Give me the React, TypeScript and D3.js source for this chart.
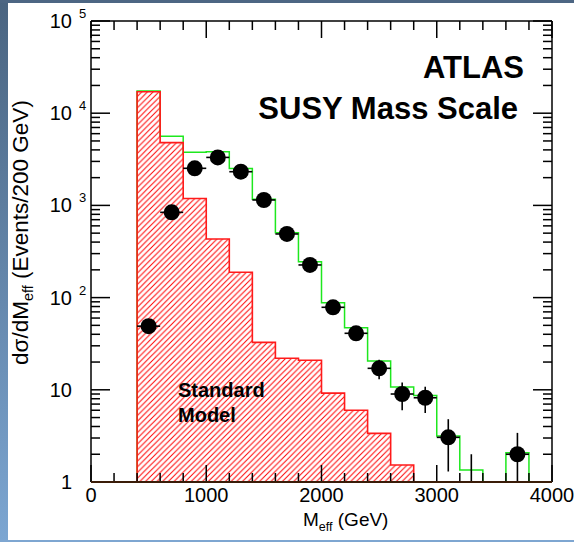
import React from 'react';
import * as d3 from 'd3';

const W = 574;
const H = 542;
const BIN = 200;

// Standard Model background (red hatched), lower bin edges (GeV) and values
const smEdges = [400, 600, 800, 1000, 1200, 1400, 1600, 1800, 2000, 2200, 2400, 2600];
const smValues = [17100, 4790, 1190, 432, 188, 32.7, 22, 20.9, 9.2, 6.0, 3.37, 1.53];

// SUSY + SM total (green line)
const totEdges = [400, 600, 800, 1000, 1200, 1400, 1600, 1800, 2000, 2200, 2400, 2600, 2800, 3000, 3200, 3400, 3600];
const totValues = [17400, 5620, 3770, 3825, 2515, 1165, 506, 245, 88, 47, 20.5, 10.7, 8.7, 3.15, 1.35, 0, 2.08];

// pseudo-data points
const dataX = [500, 700, 900, 1100, 1300, 1500, 1700, 1900, 2100, 2300, 2500, 2700, 2900, 3100, 3700];
const dataY = [49, 841, 2525, 3315, 2320, 1145, 490, 226, 78.5, 41, 17.1, 9.0, 8.2, 3.05, 2.0];
const dataErr = [7, 29, 50, 58, 48, 34, 22, 15, 8.9, 6.4, 4.1, 3.0, 2.6, 1.75, 1.41];
// empty bins drawn with upper error only
const emptyX = [3300];
const emptyErrUp = [2.0];

const xMajor = [0, 1000, 2000, 3000, 4000];
const xTickLabels = ['0', '1000', '2000', '3000', '4000'];
const yDecades = [1, 10, 100, 1000, 10000, 100000];
const yLabelBase = ['1', '10', '10', '10', '10', '10'];
const yLabelExp = ['', '', '2', '3', '4', '5'];

const FONT = "'Liberation Sans', Arial, Helvetica, sans-serif";

export default function App() {
  const x = d3.scaleLinear().domain([0, 4000]).range([91, 552]);
  const y = d3.scaleLog().domain([1, 1e5]).range([482, 21]);
  const yc = (v: number) => (v <= 1 ? y(1) : Math.min(y(1), y(v)));

  const stepPath = (edges: number[], vals: number[], close: boolean) => {
    const p = d3.path();
    p.moveTo(x(edges[0]), y(1));
    edges.forEach((e, i) => {
      p.lineTo(x(e), yc(vals[i]));
      p.lineTo(x(e + BIN), yc(vals[i]));
    });
    p.lineTo(x(edges[edges.length - 1] + BIN), y(1));
    if (close) p.closePath();
    return p.toString();
  };

  const xMinor: number[] = d3.range(0, 4001, 200).filter((v) => v % 1000 !== 0);
  const yMinor: number[] = [];
  yDecades.slice(0, 5).forEach((d) => {
    for (let k = 2; k <= 9; k++) yMinor.push(d * k);
  });

  const x0 = x(0), x1 = x(4000), yTop = y(1e5), yBot = y(1);

  return (
    <svg width={W} height={H} style={{ position: 'absolute', left: 0, top: 0, display: 'block' }} fontFamily={FONT}>
      <defs>
        <linearGradient id="lb" x1="0" y1="0" x2="0" y2="1">
          <stop offset="0" stopColor="#4a6480" />
          <stop offset="1" stopColor="#7ca6d2" />
        </linearGradient>
        <pattern id="hatch" patternUnits="userSpaceOnUse" width="5.7" height="5.7">
          <path d="M0,5.7 L5.7,0 M-1,1 L1,-1 M4.7,6.7 L6.7,4.7" stroke="#ff0000" strokeWidth="1" />
        </pattern>
        <clipPath id="plot">
          <rect x={x0} y={yTop} width={x1 - x0} height={yBot - yTop} />
        </clipPath>
      </defs>
      <rect x={0} y={0} width={W} height={H} fill="#ffffff" />
      <rect x={0} y={0} width={8} height={H} fill="url(#lb)" />
      <rect x={0} y={0} width={W} height={3} fill="#4d6683" />
      <rect x={0} y={540} width={W} height={2} fill="#7ea6d1" />

      <g clipPath="url(#plot)">
        <path d={stepPath(totEdges, totValues, false)} fill="none" stroke="#1ee81e" strokeWidth={1.5} />
        <path d={stepPath(smEdges, smValues, true)} fill="url(#hatch)" stroke="#ff1a1a" strokeWidth={1.6} />
      </g>

      {/* error bars and markers */}
      <g>
        {dataX.map((cx, i) => {
          const v = dataY[i];
          const e = dataErr[i];
          return (
            <g key={i}>
              <line x1={x(cx)} x2={x(cx)} y1={yc(v + e)} y2={yc(v - e)} stroke="#000" strokeWidth={1.6} />
              <line x1={x(cx - BIN / 2)} x2={x(cx + BIN / 2)} y1={y(v)} y2={y(v)} stroke="#000" strokeWidth={1.6} />
              <circle cx={x(cx)} cy={y(v)} r={8} fill="#000" />
            </g>
          );
        })}
        {emptyX.map((cx, i) => (
          <line key={i} x1={x(cx)} x2={x(cx)} y1={yc(emptyErrUp[i])} y2={yBot} stroke="#000" strokeWidth={1.6} />
        ))}
      </g>

      {/* frame */}
      <g stroke="#000" strokeWidth={1.5} fill="none">
        <line x1={x0} x2={x0} y1={yTop} y2={yBot} />
        <line x1={x1} x2={x1} y1={yTop} y2={yBot} />
        <line x1={x0} x2={x1} y1={yTop} y2={yTop} />
        {xMajor.map((v) => (
          <g key={'xm' + v}>
            <line x1={x(v)} x2={x(v)} y1={yBot} y2={yBot - 17} />
            <line x1={x(v)} x2={x(v)} y1={yTop} y2={yTop + 17} />
          </g>
        ))}
        {xMinor.map((v) => (
          <g key={'xn' + v}>
            <line x1={x(v)} x2={x(v)} y1={yBot} y2={yBot - 9} />
            <line x1={x(v)} x2={x(v)} y1={yTop} y2={yTop + 9} />
          </g>
        ))}
        {yDecades.map((v) => (
          <g key={'ym' + v}>
            <line x1={x0} x2={x0 + 19} y1={y(v)} y2={y(v)} />
            <line x1={x1} x2={x1 - 19} y1={y(v)} y2={y(v)} />
          </g>
        ))}
        {yMinor.map((v) => (
          <g key={'yn' + v}>
            <line x1={x0} x2={x0 + 9} y1={y(v)} y2={y(v)} />
            <line x1={x1} x2={x1 - 9} y1={y(v)} y2={y(v)} />
          </g>
        ))}
      </g>
      <line x1={x0} x2={x1} y1={yBot} y2={yBot} stroke="#3a1c08" strokeWidth={2} />

      {/* tick labels */}
      <g fontSize={20} fill="#000">
        {xMajor.map((v, i) => (
          <text key={'xl' + v} x={x(v)} y={502} textAnchor="middle">
            {xTickLabels[i]}
          </text>
        ))}
        {yDecades.map((v, i) => (
          <g key={'yl' + v}>
            <text x={72} y={y(v) + 7} textAnchor="end">
              {yLabelBase[i]}
            </text>
            {yLabelExp[i] && (
              <text x={79} y={y(v) - 3} fontSize={13}>
                {yLabelExp[i]}
              </text>
            )}
          </g>
        ))}
      </g>

      {/* axis titles */}
      <text x={303} y={526} fontSize={19} fill="#000">
        M<tspan fontSize={12.5} dy={5}>eff</tspan>
        <tspan dy={-5}> (GeV)</tspan>
      </text>
      <text transform="translate(28,365) rotate(-90)" fontSize={22.5} fill="#000">
        dσ/dM<tspan fontSize={14.5} dy={5}>eff</tspan>
        <tspan dy={-5}> (Events/200 GeV)</tspan>
      </text>

      {/* labels */}
      <g fontWeight="bold" fill="#000" textAnchor="end">
        <text x={524} y={78} fontSize={31}>ATLAS</text>
        <text x={518} y={119} fontSize={31}>SUSY Mass Scale</text>
      </g>
      <g fontWeight="bold" fill="#000" fontSize={20}>
        <text x={178} y={397}>Standard</text>
        <text x={178} y={422}>Model</text>
      </g>
    </svg>
  );
}
